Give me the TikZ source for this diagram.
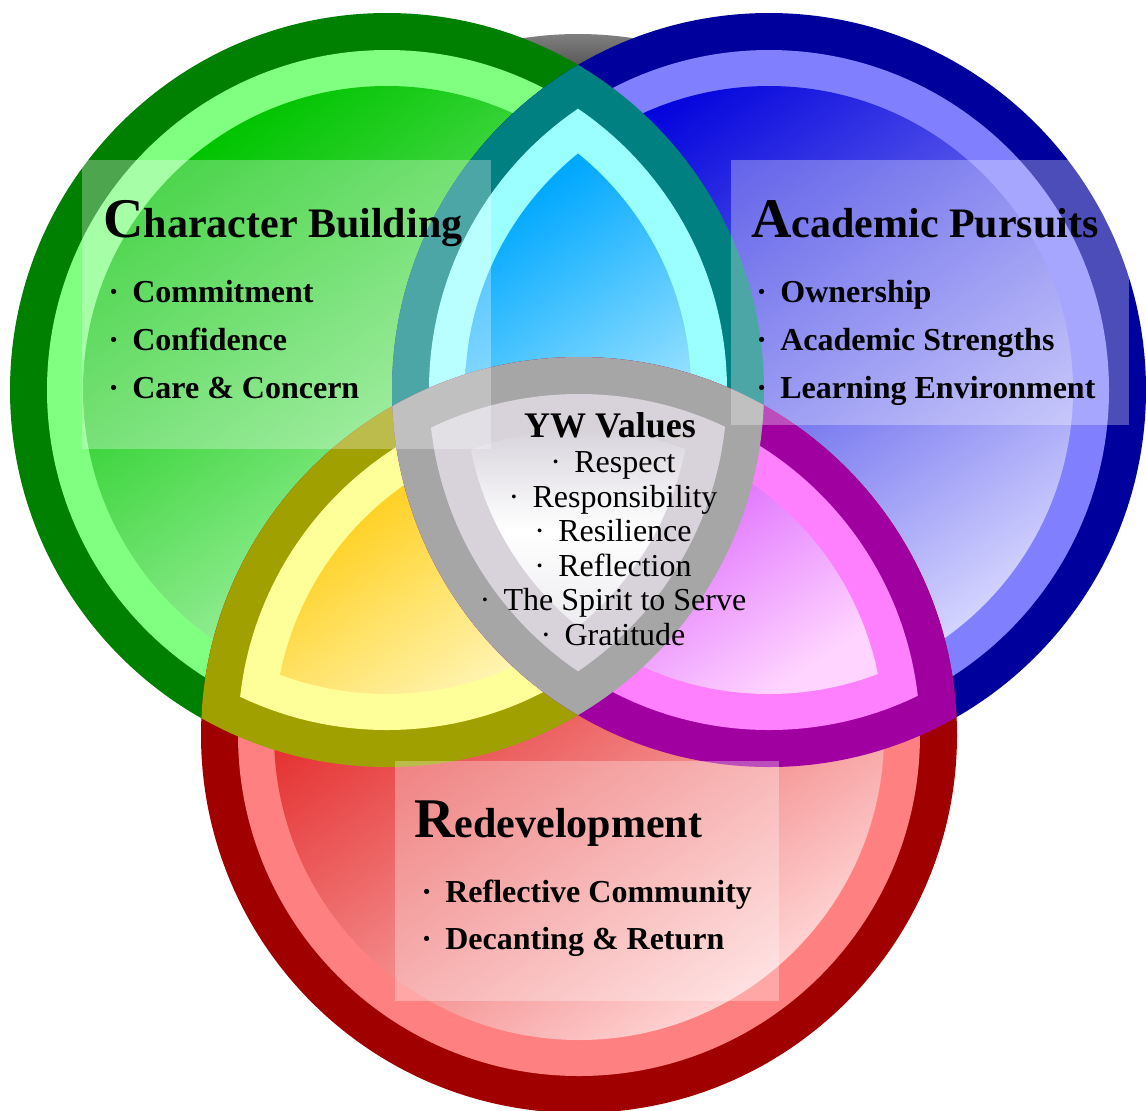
\documentclass[tikz,border=0pt]{standalone}
\usepackage{fontspec}
\setmainfont{Liberation Serif}
\usepackage{tikz}
\usetikzlibrary{positioning}

\definecolor{gnDark}{HTML}{008000}
\definecolor{gnLight}{HTML}{80FF80}
\definecolor{gnTop}{HTML}{00C400}
\definecolor{gnBot}{HTML}{D4FFD4}
\definecolor{blDark}{HTML}{00009C}
\definecolor{blLight}{HTML}{8080FF}
\definecolor{blTop}{HTML}{0000DC}
\definecolor{blBot}{HTML}{D4D4FF}
\definecolor{rdDark}{HTML}{A00000}
\definecolor{rdLight}{HTML}{FF8080}
\definecolor{rdTop}{HTML}{DD0000}
\definecolor{rdBot}{HTML}{FFD4D4}
\definecolor{cyDark}{HTML}{008080}
\definecolor{cyLight}{HTML}{9CFFFF}
\definecolor{cyTop}{HTML}{00A8FF}
\definecolor{cyBot}{HTML}{E8FFFF}
\definecolor{ylDark}{HTML}{A0A000}
\definecolor{ylLight}{HTML}{FFFF99}
\definecolor{ylTop}{HTML}{FFC800}
\definecolor{ylBot}{HTML}{FFFFDC}
\definecolor{mgDark}{HTML}{A000A0}
\definecolor{mgLight}{HTML}{FF80FF}
\definecolor{mgTop}{HTML}{CC33FF}
\definecolor{mgBot}{HTML}{FFD4FF}
\definecolor{gyDark}{HTML}{A6A6A6}
\definecolor{gyLight}{HTML}{D8D3DA}
\definecolor{gyTop}{HTML}{D8D4DC}
\definecolor{gyBot}{HTML}{ECECF0}

\newcommand{\firstcap}[1]{{\fontsize{28}{30}\selectfont #1}}
\newcommand{\dotitem}{\makebox[12pt][l]{\textperiodcentered}}

\begin{document}
\begin{tikzpicture}[x=0.5pt, y=-0.5pt,
    textbox/.style={fill=white, fill opacity=0.3},
    glow/.style 2 args={top color=#1, bottom color=#2, shading angle=35},
    heading/.style={anchor=base west, inner sep=0pt, font=\fontsize{21}{24}\selectfont\bfseries},
    item/.style={anchor=base west, inner sep=0pt, font=\fontsize{16}{18}\selectfont\bfseries},
    value/.style={anchor=base, inner sep=0pt, font=\fontsize{16}{18}\selectfont}]
\useasboundingbox (0,0) rectangle (1146,1110);

\coordinate (G) at (387,390);
\coordinate (B) at (769,390);
\coordinate (R) at (579,735);

% grey piece behind, seen on top
\begin{scope}
\clip (578,395) circle[radius=361];
\shade[top color=black!48, bottom color=black!68] (520,30) rectangle (640,70);
\end{scope}

% the three circles
\fill[gnDark] (G) circle[radius=377];
\fill[gnLight] (G) circle[radius=340];
\shade[glow={gnTop}{gnBot}] (G) circle[radius=304];

\fill[blDark] (B) circle[radius=377];
\fill[blLight] (B) circle[radius=340];
\shade[glow={blTop}{blBot}] (B) circle[radius=304];

\fill[rdDark] (R) circle[radius=378];
\fill[rdLight] (R) circle[radius=341];
\shade[glow={rdTop}{rdBot}] (R) circle[radius=305];

% green and blue
\begin{scope}
\clip (G) circle[radius=377];
\fill[cyDark] (B) circle[radius=377];
\end{scope}
\begin{scope}
\clip (G) circle[radius=340];
\fill[cyLight] (B) circle[radius=340];
\end{scope}
\begin{scope}
\clip (G) circle[radius=304];
\clip (B) circle[radius=304];
\shade[glow={cyTop}{cyBot}] (465,150) rectangle (691,630);
\end{scope}

% green and red
\begin{scope}
\clip (G) circle[radius=377];
\fill[ylDark] (R) circle[radius=378];
\end{scope}
\begin{scope}
\clip (G) circle[radius=340];
\fill[ylLight] (R) circle[radius=341];
\end{scope}
\begin{scope}
\clip (G) circle[radius=304];
\clip (R) circle[radius=305];
\shade[glow={ylTop}{ylBot}] (274,430) rectangle (691,694);
\end{scope}

% blue and red
\begin{scope}
\clip (B) circle[radius=377];
\fill[mgDark] (R) circle[radius=378];
\end{scope}
\begin{scope}
\clip (B) circle[radius=340];
\fill[mgLight] (R) circle[radius=341];
\end{scope}
\begin{scope}
\clip (B) circle[radius=304];
\clip (R) circle[radius=305];
\shade[glow={mgTop}{mgBot}] (465,430) rectangle (884,694);
\end{scope}

% middle
\begin{scope}
\clip (G) circle[radius=377];
\clip (B) circle[radius=377];
\fill[gyDark] (R) circle[radius=378];
\end{scope}
\begin{scope}
\clip (G) circle[radius=340];
\clip (B) circle[radius=340];
\fill[gyLight] (R) circle[radius=341];
\end{scope}
\begin{scope}
\clip (G) circle[radius=304];
\clip (B) circle[radius=304];
\clip (R) circle[radius=305];
\shade[top color=gyTop, bottom color=gyBot, middle color=white] (465,430) rectangle (691,630);
\end{scope}

% text panels
\fill[textbox] (82,160) rectangle (491,449);
\fill[textbox] (731,160) rectangle (1129,425);
\fill[textbox] (395,761) rectangle (779,1001);

\node[heading] (cb) at (103,237) {\firstcap{C}haracter Building};
\node[item] (cb1) at (108,302) {\dotitem Commitment};
\node[item] (cb2) at (108,350) {\dotitem Confidence};
\node[item] (cb3) at (108,398) {\dotitem Care \& Concern};

\node[heading] (ap) at (751,237) {\firstcap{A}cademic Pursuits};
\node[item] (ap1) at (756,302) {\dotitem Ownership};
\node[item] (ap2) at (756,350) {\dotitem Academic Strengths};
\node[item] (ap3) at (756,398) {\dotitem Learning Environment};

\node[heading] (rd) at (414,837) {\firstcap{R}edevelopment};
\node[item] (rd1) at (421,902) {\dotitem Reflective Community};
\node[item] (rd2) at (421,949) {\dotitem Decanting \& Return};

\node[value, font=\fontsize{18}{20}\selectfont\bfseries] (yw) at (610,437) {YW Values};
\node[value] (yw1) at (613,472) {\dotitem Respect};
\node[value] (yw2) at (613,507) {\dotitem Responsibility};
\node[value] (yw3) at (613,541) {\dotitem Resilience};
\node[value] (yw4) at (613,576) {\dotitem Reflection};
\node[value] (yw5) at (613,610) {\dotitem The Spirit to Serve};
\node[value] (yw6) at (613,645) {\dotitem Gratitude};
\end{tikzpicture}
\end{document}
